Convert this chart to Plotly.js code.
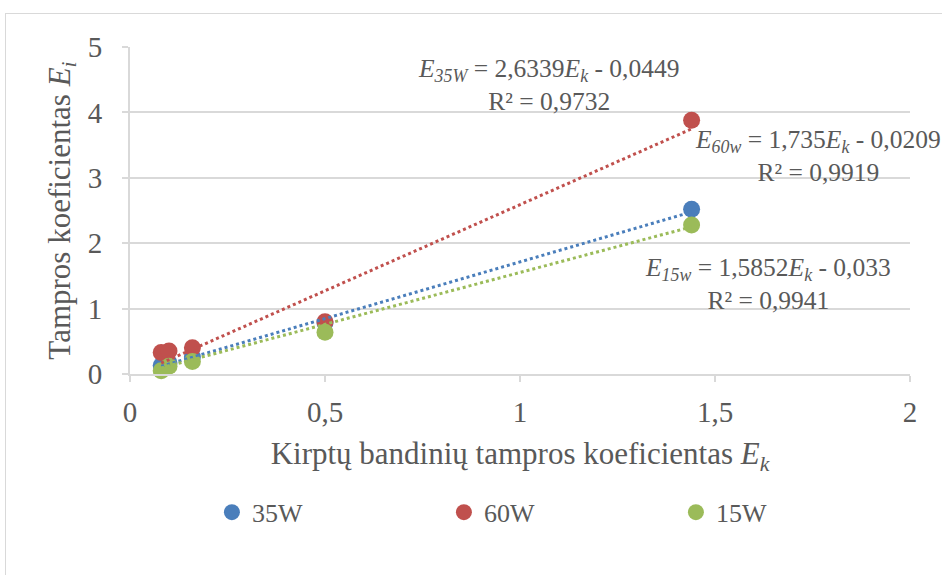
<!DOCTYPE html>
<html><head><meta charset="utf-8">
<script src="https://cdn.plot.ly/plotly-3.0.1.min.js"></script>
<style>
html,body{margin:0;padding:0;background:#fff;}
#wrap{position:relative;width:942px;height:575px;overflow:hidden;}
#chart{width:942px;height:575px;}
#frame{position:absolute;left:5px;top:13px;width:1000px;height:700px;border:1.5px solid #d9d9d9;pointer-events:none;}
</style></head>
<body><div id="wrap"><div id="chart"></div><div id="frame"></div></div>
<script>
const seriesNames = ['35W', '60W', '15W'];
const seriesColors = ['#4a7ebb', '#c0504d', '#9bbb59'];
const xValues = [0.08, 0.10, 0.16, 0.50, 1.44];
const y35W = [0.13, 0.17, 0.26, 0.78, 2.52];
const y60W = [0.33, 0.35, 0.40, 0.80, 3.88];
const y15W = [0.05, 0.12, 0.19, 0.64, 2.28];
// trendline coefficients as printed (line colour order: blue, red, green)
const trendSlopes = [1.735, 2.6339, 1.5852];
const trendIntercepts = [-0.0209, -0.0449, -0.033];
const xTickVals = [0, 0.5, 1, 1.5, 2];
const yTickVals = [0, 1, 2, 3, 4, 5];
const annoTexts = [
  '<i>E</i><sub><i>35W</i></sub> = 2,6339<i>E</i><sub><i>k</i></sub> - 0,0449<br>R² = 0,9732',
  '<i>E</i><sub><i>60w</i></sub> = 1,735<i>E</i><sub><i>k</i></sub> - 0,0209<br>R² = 0,9919',
  '<i>E</i><sub><i>15w</i></sub> = 1,5852<i>E</i><sub><i>k</i></sub> - 0,033<br>R² = 0,9941'
];
const annoX = [1.074, 1.764, 1.636];
const annoY = [4.42, 3.33, 1.37];

const ys = [y35W, y60W, y15W];
const font = "'Liberation Serif', 'Times New Roman', serif";
const txt = '#595959';
const traces = [];
ys.forEach((y, i) => {
  traces.push({x: xValues, y: y, type: 'scatter', mode: 'markers', name: seriesNames[i],
    marker: {color: seriesColors[i], size: 17}, cliponaxis: false});
});
const xmin = Math.min(...xValues), xmax = Math.max(...xValues);
trendSlopes.forEach((a, i) => {
  traces.push({x: [xmin, xmax], y: [a * xmin + trendIntercepts[i], a * xmax + trendIntercepts[i]],
    type: 'scatter', mode: 'lines', showlegend: false, hoverinfo: 'skip',
    line: {color: seriesColors[i], width: 3, dash: 'dot'}});
});

const layout = {
  width: 942, height: 575,
  margin: {l: 130, r: 32, t: 47, b: 201},
  paper_bgcolor: '#fff', plot_bgcolor: '#fff',
  separators: ', ',
  font: {family: font, color: txt, size: 18},
  showlegend: true,
  legend: {orientation: 'h', x: 0.105, y: -0.351, xanchor: 'left', yanchor: 'top',
    entrywidth: 187, entrywidthmode: 'pixels', font: {size: 26, family: font, color: txt}, traceorder: 'normal'},
  xaxis: {range: [0, 2], tickvals: xTickVals, showgrid: false, zeroline: false,
    showline: true, linecolor: '#d9d9d9', linewidth: 2, ticks: 'outside', ticklen: 6, tickcolor: '#d9d9d9', tickwidth: 2,
    tickfont: {size: 29, family: font, color: txt}, ticklabelstandoff: 5,
    title: {text: 'Kirptų bandinių tampros koeficientas <i>E</i><sub><i>k</i></sub>', font: {size: 31, family: font, color: txt}, standoff: 16}},
  yaxis: {range: [0, 5], tickvals: yTickVals, showgrid: true, gridcolor: '#d9d9d9', gridwidth: 2, zeroline: false,
    showline: true, linecolor: '#d9d9d9', linewidth: 2, ticks: 'outside', ticklen: 6, tickcolor: '#d9d9d9', tickwidth: 2,
    tickfont: {size: 29, family: font, color: txt}, ticklabelstandoff: 14,
    title: {text: 'Tampros koeficientas <i>E</i><sub><i>i</i></sub>', font: {size: 31, family: font, color: txt}, standoff: 8}},
  annotations: annoTexts.map((t, i) => ({x: annoX[i], y: annoY[i], xref: 'x', yref: 'y', text: t, showarrow: false,
    align: 'center', font: {size: 25.5, family: font, color: txt}}))
};
Plotly.newPlot('chart', traces, layout, {displayModeBar: false, staticPlot: true});
</script></body></html>
